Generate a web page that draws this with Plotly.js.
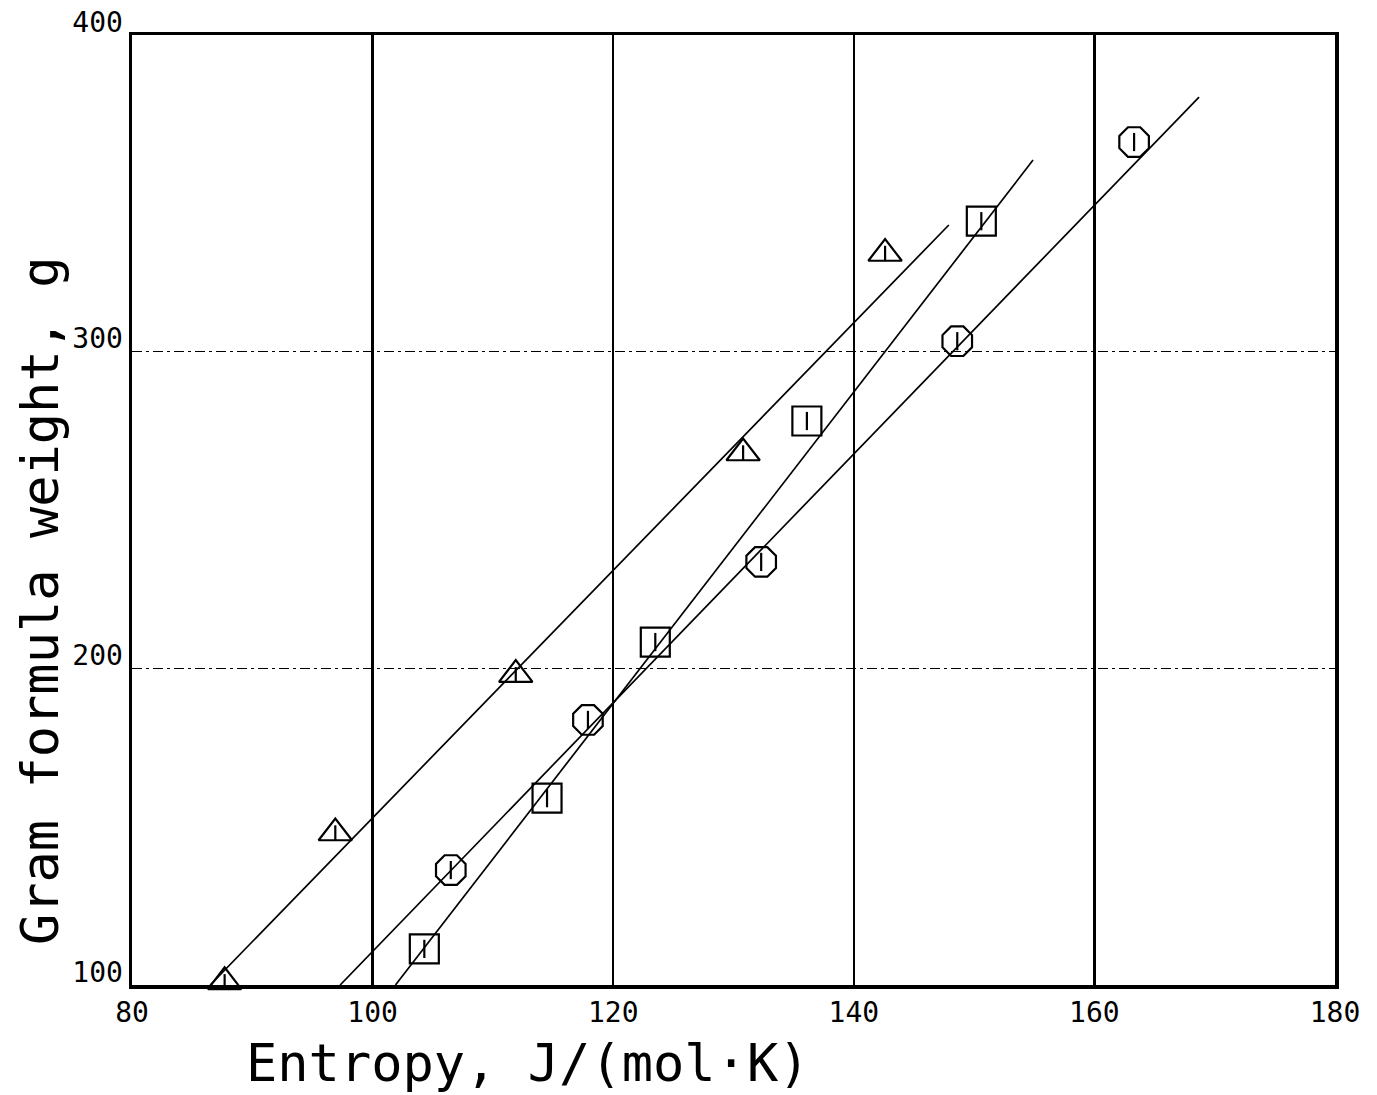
<!DOCTYPE html>
<html>
<head>
<meta charset="utf-8">
<script src="https://cdn.plot.ly/plotly-3.0.1.min.js"></script>
<style>html,body{margin:0;padding:0;background:#fff;}</style>
</head>
<body>
<div id="chart" style="width:1377px;height:1095px;"></div>
<script>
// Triangle series
const triX = [87.7, 96.9, 111.9, 130.8, 142.6];
const triY = [101, 148, 198, 268, 331];
const triFitX = [86.5, 147.9];
const triFitY = [100, 340];
// Circle (octagon) series
const cirX = [106.5, 117.9, 132.3, 148.6, 163.3];
const cirY = [136.3, 183.7, 233.6, 303.3, 366.2];
const cirFitX = [97.3, 168.7];
const cirFitY = [100, 380.4];
// Square series
const sqX = [104.3, 114.5, 123.5, 136.1, 150.6];
const sqY = [111.4, 159, 208.3, 278.1, 341.2];
const sqFitX = [101.9, 154.9];
const sqFitY = [100, 360.5];

const xTicks = [80, 100, 120, 140, 160, 180];
const yTicks = [100, 200, 300, 400];
const xTitle = "Entropy, J/(mol·K)";
const yTitle = "Gram formula weight, g";

const lineStyle = {color: '#000', width: 1.7};
function fit(x, y) {
  return {x: x, y: y, mode: 'lines', line: lineStyle, hoverinfo: 'skip', showlegend: false};
}
function pts(x, y, sym, size) {
  return {x: x, y: y, mode: 'markers', showlegend: false, cliponaxis: false,
    marker: {symbol: sym, size: size, color: '#000', line: {color: '#000', width: 2.2}}};
}
function ticks(x, y, size) {
  return {x: x, y: y, mode: 'markers', showlegend: false, cliponaxis: false,
    marker: {symbol: 'line-ns-open', size: size, color: '#000', line: {color: '#000', width: 2.2}}};
}

const data = [
  fit(triFitX, triFitY), fit(cirFitX, cirFitY), fit(sqFitX, sqFitY),
  pts(triX, triY, 'triangle-up-open', 29), ticks(triX, triY, 11),
  pts(cirX, cirY, 'octagon-open', 32), ticks(cirX, cirY, 13),
  pts(sqX, sqY, 'square-open', 29), ticks(sqX, sqY, 13)
];

const tickFont = {family: 'DejaVu Sans Mono, monospace', size: 28, color: '#000'};
const titleFont = {family: 'DejaVu Sans Mono, monospace', size: 52, color: '#000'};
const layout = {
  width: 1377, height: 1095,
  margin: {l: 132, r: 42, t: 35, b: 110},
  paper_bgcolor: '#fff', plot_bgcolor: '#fff',
  xaxis: {
    range: [80, 180], tickvals: xTicks, ticktext: xTicks.map(String),
    showgrid: true, gridcolor: '#000', gridwidth: 2.5,
    showline: true, linecolor: '#000', linewidth: 3.5, mirror: true,
    zeroline: false, ticks: '', tickfont: tickFont, ticklabelstandoff: 0, ticklabelshift: 0
  },
  yaxis: {
    range: [100, 400], tickvals: yTicks, ticktext: yTicks.map(String),
    showgrid: true, gridcolor: '#000', gridwidth: 1.3, griddash: '10px,4px,3px,4px',
    showline: true, linecolor: '#000', linewidth: 3.5, mirror: true,
    zeroline: false, ticks: '', tickfont: tickFont, ticklabelstandoff: 0, ticklabelshift: -13
  },
  annotations: [
    {text: xTitle, xref: 'paper', yref: 'paper', x: 0.329, y: -0.082, xanchor: 'center', yanchor: 'middle',
     showarrow: false, font: titleFont},
    {text: yTitle, xref: 'paper', yref: 'paper', x: -0.05, y: 0.405, xanchor: 'right', yanchor: 'middle',
     textangle: -90, showarrow: false, font: titleFont}
  ]
};
Plotly.newPlot('chart', data, layout, {displayModeBar: false, staticPlot: true});
</script>
</body>
</html>
